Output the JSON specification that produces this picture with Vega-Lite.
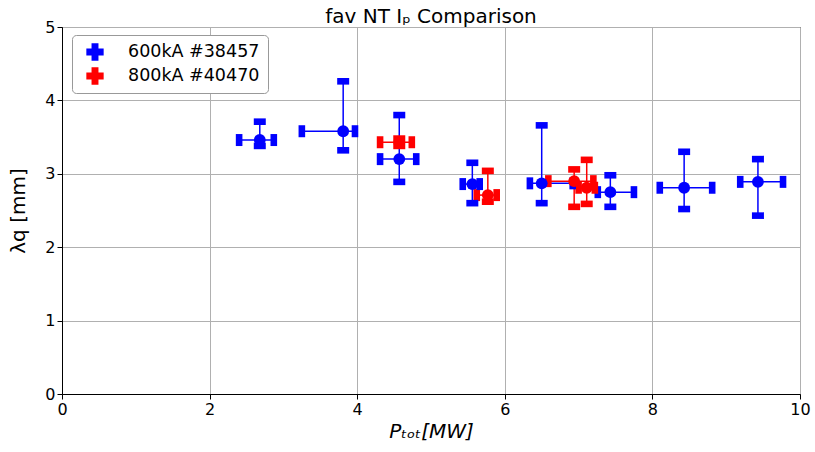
{
  "$schema": "https://vega.github.io/schema/vega-lite/v6.json",
  "autosize": "none",
  "width": 738,
  "height": 367,
  "padding": {"left": 62, "top": 27, "right": 15, "bottom": 58},
  "background": "white",
  "title": {"text": "fav NT Iₚ Comparison", "fontSize": 20, "font": "DejaVu Sans", "fontWeight": "normal", "offset": 6, "dy": 14, "color": "black"},
  "config": {
    "font": "DejaVu Sans",
    "view": {"stroke": "black", "strokeWidth": 1},
    "axis": {"labelFontSize": 16, "titleFontSize": 20, "titleFontWeight": "normal", "labelColor": "black", "titleColor": "black", "domainColor": "black", "tickColor": "black", "gridColor": "#b0b0b0", "tickSize": 5, "format": "d", "labelFlush": false}
  },
  "data": {"values": [
    {"s": "600kA #38457", "x": 2.68, "y": 3.46, "xlo": 2.40, "xhi": 2.87, "ylo": 3.38, "yhi": 3.71},
    {"s": "600kA #38457", "x": 3.81, "y": 3.58, "xlo": 3.25, "xhi": 3.97, "ylo": 3.32, "yhi": 4.26},
    {"s": "600kA #38457", "x": 4.57, "y": 3.20, "xlo": 4.31, "xhi": 4.80, "ylo": 2.89, "yhi": 3.80},
    {"s": "600kA #38457", "x": 5.56, "y": 2.86, "xlo": 5.43, "xhi": 5.66, "ylo": 2.60, "yhi": 3.15},
    {"s": "600kA #38457", "x": 6.50, "y": 2.87, "xlo": 6.34, "xhi": 6.92, "ylo": 2.60, "yhi": 3.66},
    {"s": "600kA #38457", "x": 7.43, "y": 2.75, "xlo": 7.26, "xhi": 7.75, "ylo": 2.55, "yhi": 2.98},
    {"s": "600kA #38457", "x": 8.43, "y": 2.81, "xlo": 8.10, "xhi": 8.81, "ylo": 2.52, "yhi": 3.30},
    {"s": "600kA #38457", "x": 9.43, "y": 2.89, "xlo": 9.19, "xhi": 9.77, "ylo": 2.43, "yhi": 3.20},
    {"s": "800kA #40470", "x": 4.57, "y": 3.43, "xlo": 4.31, "xhi": 4.74, "ylo": 3.38, "yhi": 3.48},
    {"s": "800kA #40470", "x": 5.77, "y": 2.71, "xlo": 5.62, "xhi": 5.89, "ylo": 2.62, "yhi": 3.04},
    {"s": "800kA #40470", "x": 6.94, "y": 2.90, "xlo": 6.59, "xhi": 7.20, "ylo": 2.55, "yhi": 3.06},
    {"s": "800kA #40470", "x": 7.11, "y": 2.81, "xlo": 7.00, "xhi": 7.22, "ylo": 2.59, "yhi": 3.19}
  ]},
  "encoding": {
    "color": {"field": "s", "type": "nominal", "scale": {"domain": ["600kA #38457", "800kA #40470"], "range": ["#0000ff", "#ff0000"]},
      "legend": {"title": null, "orient": "none", "legendX": 10, "legendY": 8, "symbolType": "cross", "symbolSize": 300, "symbolStrokeWidth": 0, "labelFontSize": 17.5, "labelColor": "black", "strokeColor": "#999999", "fillColor": "white", "cornerRadius": 4, "padding": 8, "rowPadding": 6, "labelOffset": 24, "symbolOffset": 6}}
  },
  "layer": [
    {"mark": {"type": "rule", "strokeWidth": 1.5},
     "encoding": {"x": {"field": "xlo", "type": "quantitative", "scale": {"domain": [0, 10]}, "axis": {"values": [0, 2, 4, 6, 8, 10], "title": "Pₜₒₜ[MW]", "titleFontStyle": "italic", "titlePadding": 4}}, "x2": {"field": "xhi"}, "y": {"field": "y", "type": "quantitative", "scale": {"domain": [0, 5]}, "axis": {"values": [0, 1, 2, 3, 4, 5], "title": "λq [mm]", "titlePadding": 16}}}},
    {"mark": {"type": "rule", "strokeWidth": 1.5},
     "encoding": {"x": {"field": "x", "type": "quantitative"}, "y": {"field": "ylo", "type": "quantitative"}, "y2": {"field": "yhi"}}},
    {"mark": {"type": "point", "filled": true, "opacity": 1, "shape": "M-0.55,-1H0.55V1H-0.55Z", "size": 144},
     "encoding": {"x": {"field": "xlo", "type": "quantitative"}, "y": {"field": "y", "type": "quantitative"}}},
    {"mark": {"type": "point", "filled": true, "opacity": 1, "shape": "M-0.55,-1H0.55V1H-0.55Z", "size": 144},
     "encoding": {"x": {"field": "xhi", "type": "quantitative"}, "y": {"field": "y", "type": "quantitative"}}},
    {"mark": {"type": "point", "filled": true, "opacity": 1, "shape": "M-1,-0.55H1V0.55H-1Z", "size": 144},
     "encoding": {"x": {"field": "x", "type": "quantitative"}, "y": {"field": "ylo", "type": "quantitative"}}},
    {"mark": {"type": "point", "filled": true, "opacity": 1, "shape": "M-1,-0.55H1V0.55H-1Z", "size": 144},
     "encoding": {"x": {"field": "x", "type": "quantitative"}, "y": {"field": "yhi", "type": "quantitative"}}},
    {"mark": {"type": "circle", "opacity": 1, "size": 140},
     "encoding": {"x": {"field": "x", "type": "quantitative"}, "y": {"field": "y", "type": "quantitative"}}}
  ]
}
